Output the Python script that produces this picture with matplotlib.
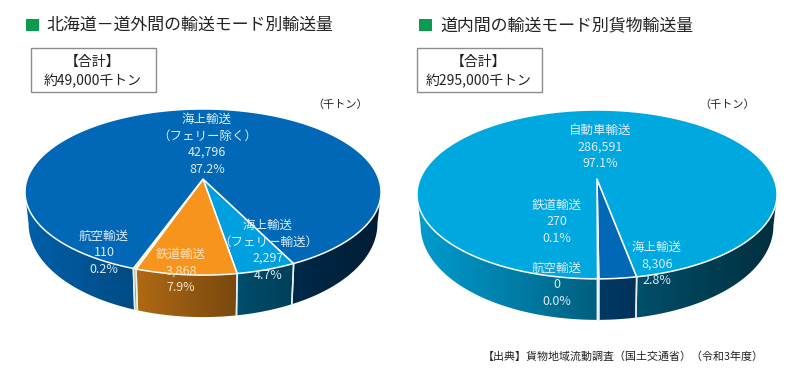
import matplotlib

matplotlib.use("Agg")

import matplotlib.pyplot as plt
import numpy as np
from matplotlib.colors import to_rgb
from matplotlib.patches import Polygon, Rectangle

plt.rcParams["font.family"] = ["Noto Sans CJK JP", "DejaVu Sans"]

# data, clockwise on screen starting from the first wedge on the front right
out_names = ["海上輸送\n（フェリー輸送）", "鉄道輸送", "航空輸送", "海上輸送\n（フェリー除く）"]
out_values = [2297, 3868, 110, 42796]
out_shares = ["4.7%", "7.9%", "0.2%", "87.2%"]
out_colors = ["#00a0e0", "#f7941d", "#f6d77a", "#0068b7"]

in_names = ["海上輸送", "鉄道輸送", "航空輸送", "自動車輸送"]
in_values = [8306, 270, 0, 286591]
in_shares = ["2.8%", "0.1%", "0.0%", "97.1%"]
in_colors = ["#0068b7", "#e8eef2", "#f6d77a", "#00a8e0"]

LABEL_COLOR = "#dcecf6"
SHADE_X = [-1.0, -0.4, 0.0, 0.3, 1.0]
SHADE_Y = [0.92, 0.72, 0.56, 0.45, 0.28]


def rim(theta, geo):
    """Perspective projection of a rim point; theta in degrees, 0 = front, + = right."""
    t = np.radians(theta)
    X, Y = np.sin(t), np.cos(t)
    w = 1 - geo["k"] * Y
    return geo["cx"] + geo["A"] * X / w, geo["y0"] + geo["B"] * Y / w


def base(theta, geo):
    x, y = rim(theta, geo)
    Y = np.cos(np.radians(theta))
    return geo["cx"] + (x - geo["cx"]) * 0.98, y + geo["depth"] * (0.7 + 0.3 * Y)


def draw_pie(ax, geo, values, colors, start):
    total = sum(values)
    # the side wall is only visible on the near half of the rim
    limit = np.degrees(np.arccos(geo["k"]))
    xs = np.linspace(geo["cx"] - geo["A"] * 1.03, geo["cx"] + geo["A"] * 1.03, 300)
    shade = np.interp((xs - geo["cx"]) / geo["A"], SHADE_X, SHADE_Y)
    ylim = ax.get_ylim()
    xlim = ax.get_xlim()

    theta = start
    spans = []
    for v, c in zip(values, colors):
        if v > 0:
            spans.append((theta, theta - 360 * v / total, c))
        theta -= 360 * v / total

    for hi, lo, c in spans:
        if hi - lo > 180:
            # big wedge wraps round the back, so it shows on both sides
            parts = [np.linspace(hi, -limit, 80), np.linspace(lo + 360, limit, 80)]
        else:
            parts = [np.linspace(np.clip(hi, -limit, limit), np.clip(lo, -limit, limit), 20)]
        for p in parts:
            tx, ty = rim(p, geo)
            bx, by = base(p, geo)
            pts = np.r_[np.c_[tx, ty], np.c_[bx, by][::-1]]
            img = np.array(to_rgb(c))[None, None, :] * shade[None, :, None]
            im = ax.imshow(img, extent=(xs[0], xs[-1], geo["y0"] + 200, geo["y0"] - 100),
                           aspect="auto", zorder=1, interpolation="bilinear")
            im.set_clip_path(Polygon(pts, transform=ax.transData))

    # top face
    for hi, lo, c in spans:
        vals = np.linspace(hi, lo, max(int(abs(hi - lo) * 2), 4))
        tx, ty = rim(vals, geo)
        pts = np.r_[[[geo["cx"], geo["y0"]]], np.c_[tx, ty]]
        ax.add_patch(Polygon(pts, closed=True, fc=c, ec="white", lw=1.1, zorder=2,
                             joinstyle="round"))

    # white joints on the side wall
    for hi, lo, c in spans:
        for a in (hi, lo):
            if abs((a + 180) % 360 - 180) < limit:
                x0, y0 = rim(a, geo)
                x1, y1 = base(a, geo)
                ax.plot([x0, x1], [y0, y1], color="#e8f0f4", lw=1.1, zorder=3)
    ax.set_xlim(xlim)
    ax.set_ylim(ylim)


def draw_label(ax, x, y, name, value, share, color=LABEL_COLOR, step=16.8):
    lines = name.split("\n") + [f"{value:,}", share]
    for i, s in enumerate(lines):
        ax.text(x, y + i * step, s, ha="center", va="center", fontsize=9,
                color=color, zorder=5)


def draw_header(ax, x_sq, x_txt, title, box_x, total):
    ax.add_patch(Rectangle((x_sq, 19), 12.5, 12, fc="#0a9a50", ec="none"))
    ax.text(x_txt, 25, title, fontsize=12.2, color="#222222", va="center", ha="left")
    ax.add_patch(Rectangle((box_x, 48), 124.5, 44, fc="white", ec="#8c8c8c", lw=1))
    ax.text(box_x + 62, 62, "【合計】", fontsize=10, color="#222222", ha="center", va="center")
    ax.text(box_x + 62, 81, total, fontsize=10, color="#222222", ha="center", va="center")


fig = plt.figure(figsize=(8, 3.86), dpi=100, facecolor="white")
ax = fig.add_axes([0, 0, 1, 1])
ax.set_xlim(0, 800)
ax.set_ylim(386, 0)
ax.axis("off")

left_geo = {"cx": 203, "y0": 179, "A": 175.8, "B": 81, "k": 0.157, "depth": 42}
right_geo = {"cx": 597, "y0": 179, "A": 177, "B": 81.6, "k": 0.183, "depth": 41}

draw_pie(ax, left_geo, out_values, out_colors, 26.3)
draw_pie(ax, right_geo, in_values, in_colors, 10.6)

draw_header(ax, 26, 46, "北海道－道外間の輸送モード別輸送量", 31, "約49,000千トン")
draw_header(ax, 419, 440, "道内間の輸送モード別貨物輸送量", 417, "約295,000千トン")

ax.text(340, 105, "（千トン）", fontsize=8, color="#222222", ha="center", va="center")
ax.text(727, 105, "（千トン）", fontsize=8, color="#222222", ha="center", va="center")

draw_label(ax, 268, 225, out_names[0], out_values[0], out_shares[0])
draw_label(ax, 181, 254, out_names[1], out_values[1], out_shares[1], color="#fbe3c4")
draw_label(ax, 104, 236, out_names[2], out_values[2], out_shares[2])
draw_label(ax, 207, 119, out_names[3], out_values[3], out_shares[3])

draw_label(ax, 657, 247, in_names[0], in_values[0], in_shares[0])
draw_label(ax, 557, 205, in_names[1], in_values[1], in_shares[1])
draw_label(ax, 557, 268, in_names[2], in_values[2], in_shares[2])
draw_label(ax, 600, 130, in_names[3], in_values[3], in_shares[3])

ax.text(764, 357, "【出典】貨物地域流動調査（国土交通省）（令和3年度）", fontsize=7.9,
        color="#222222", ha="right", va="center")

fig.savefig("out.png", dpi=100)
